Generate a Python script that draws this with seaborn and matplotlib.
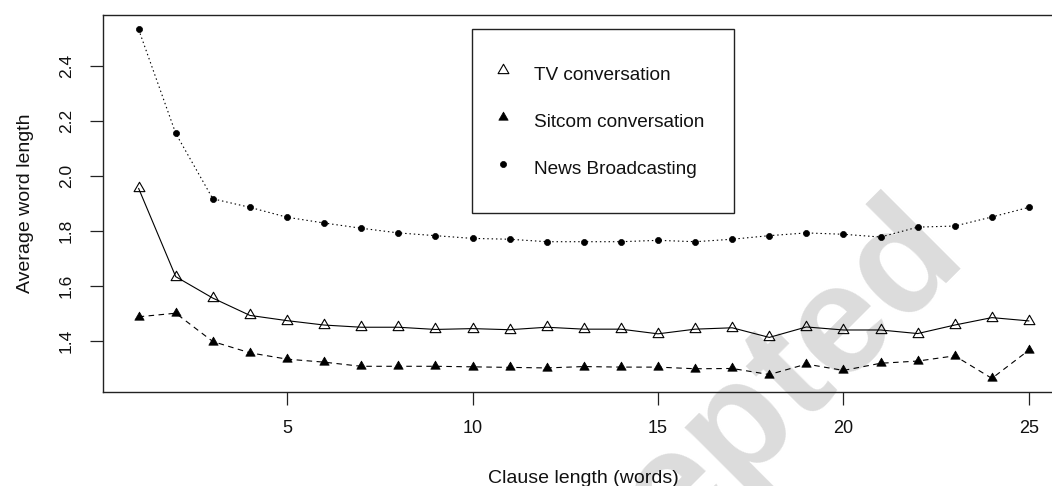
import numpy as np
import pandas as pd
import matplotlib
matplotlib.use("Agg")
import matplotlib.pyplot as plt
from matplotlib.path import Path
from matplotlib.lines import Line2D
import seaborn as sns

# Average word length by clause length (words)
clause_length = list(range(1, 26))
tv_conversation = [1.954, 1.633, 1.555, 1.492, 1.473, 1.457, 1.449, 1.449, 1.441,
                   1.444, 1.440, 1.449, 1.442, 1.442, 1.425, 1.442, 1.447, 1.412,
                   1.450, 1.439, 1.439, 1.426, 1.457, 1.484, 1.472]
sitcom_conversation = [1.487, 1.500, 1.397, 1.356, 1.333, 1.322, 1.307, 1.307, 1.307,
                       1.305, 1.303, 1.301, 1.306, 1.304, 1.304, 1.298, 1.299, 1.277,
                       1.315, 1.292, 1.318, 1.326, 1.345, 1.263, 1.366]
news_broadcasting = [2.532, 2.154, 1.916, 1.885, 1.849, 1.828, 1.809, 1.792, 1.782,
                     1.772, 1.769, 1.760, 1.760, 1.760, 1.765, 1.760, 1.769, 1.782,
                     1.792, 1.787, 1.777, 1.813, 1.817, 1.850, 1.885]
series_names = ["TV conversation", "Sitcom conversation", "News Broadcasting"]
x_ticks = [5, 10, 15, 20, 25]
y_ticks = [1.4, 1.6, 1.8, 2.0, 2.2, 2.4]

sns.set_theme(style="white")
plt.rcParams["font.family"] = ["Liberation Sans", "DejaVu Sans"]

# triangle whose centroid sits on the data point
tri = Path([(0.0, 1.1547), (-1.0, -0.5774), (1.0, -0.5774), (0.0, 1.1547)],
           [Path.MOVETO, Path.LINETO, Path.LINETO, Path.CLOSEPOLY])

styles = {
    "TV conversation": dict(marker=tri, markersize=9.0, markerfacecolor="none",
                            markeredgecolor="black", markeredgewidth=0.8,
                            linestyle="-"),
    "Sitcom conversation": dict(marker=tri, markersize=7.8, markerfacecolor="black",
                                markeredgecolor="black", markeredgewidth=0.5,
                                linestyle=(0, (5, 4))),
    "News Broadcasting": dict(marker="o", markersize=4.4, markerfacecolor="black",
                              markeredgecolor="black", markeredgewidth=0.5,
                              linestyle=(0, (1.3, 2.6))),
}

df = pd.DataFrame({
    "clause": clause_length * 3,
    "value": tv_conversation + sitcom_conversation + news_broadcasting,
    "series": np.repeat(series_names, len(clause_length)),
})

W, H = 1052, 486
fig = plt.figure(figsize=(W / 100, H / 100), dpi=100)
fig.patch.set_facecolor("white")
ax = fig.add_axes([103 / W, 1 - 392 / H, 961.6 / W, 377 / H])
ax.patch.set_alpha(0)

for name in series_names:
    sub = df[df["series"] == name]
    sns.lineplot(data=sub, x="clause", y="value", ax=ax, color="black",
                 linewidth=0.8, errorbar=None, sort=False, legend=False,
                 **styles[name])

ax.set_xlim(0.04, 25.96)
ax.set_ylim(1.2135, 2.5844)
ax.set_xticks(x_ticks)
ax.set_yticks(y_ticks)
ax.set_xticklabels([str(v) for v in x_ticks])
ax.set_yticklabels([f"{v:.1f}" for v in y_ticks])

for s in ax.spines.values():
    s.set_color("#222222")
    s.set_linewidth(1.0)
    s.set_visible(True)

ax.tick_params(axis="both", direction="out", length=9.1, width=0.9,
               color="#222222", left=True, bottom=True)
ax.tick_params(axis="x", labelsize=13, pad=11, labelcolor="#111111")
ax.tick_params(axis="y", labelsize=12.5, pad=12, labelrotation=90, labelcolor="#111111")
for lbl in ax.get_yticklabels():
    lbl.set_va("center")

ax.set_xlabel("Clause length (words)", fontsize=14, labelpad=24, color="#111111")
ax.set_ylabel("Average word length", fontsize=14, labelpad=18, color="#111111")

handles = [Line2D([], [], color="black", linestyle="none",
                  **{k: v for k, v in styles[n].items() if k != "linestyle"})
           for n in series_names]
leg = ax.legend(handles, series_names, loc="upper left",
                bbox_to_anchor=((471.7 - 103) / 961.6, (392 - 29.3) / 377),
                borderaxespad=0, fontsize=13.7, frameon=True, fancybox=False,
                framealpha=1, edgecolor="#222222", borderpad=1.6,
                handlelength=0.1, handleheight=2.0, handletextpad=1.55,
                labelspacing=0.91)
leg.get_frame().set_linewidth(1.0)
for t in leg.get_texts():
    t.set_color("#111111")

fig.text(968 / W, 1 - 258 / H, "Accepted", rotation=45, rotation_mode="anchor",
         ha="right", va="baseline", fontsize=112, fontweight="bold",
         color="#dcdcdc", zorder=-1)

fig.savefig("out.png", dpi=100, facecolor="white")
